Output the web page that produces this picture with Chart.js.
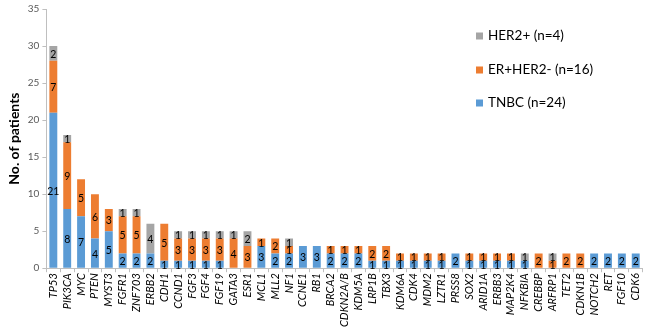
<!DOCTYPE html>
<html><head><meta charset="utf-8">
<script src="https://cdn.jsdelivr.net/npm/chart.js@4.4.0/dist/chart.umd.min.js"></script>
<style>html,body{margin:0;padding:0;background:#fff;}#wrap{position:relative;width:650px;height:330px;}</style>
</head><body><div id="wrap"><canvas id="c" width="650" height="330"></canvas></div>
<script>
const genes = ['TP53','PIK3CA','MYC','PTEN','MYST3','FGFR1','ZNF703','ERBB2','CDH1','CCND1','FGF3','FGF4','FGF19','GATA3','ESR1','MCL1','MLL2','NF1','CCNE1','RB1','BRCA2','CDKN2A/B','KDM5A','LRP1B','TBX3','KDM6A','CDK4','MDM2','LZTR1','PRSS8','SOX2','ARID1A','ERBB3','MAP2K4','NFKBIA','CREBBP','ARFRP1','TET2','CDKN1B','NOTCH2','RET','FGF10','CDK6'];
const tnbc  = [21,8,7,4,5,2,2,2,1,1,1,1,1,0,0,3,2,2,3,3,2,2,2,1,1,1,1,1,1,2,1,1,1,1,1,0,0,0,0,2,2,2,2];
const erPos = [7,9,5,6,3,5,5,0,5,3,3,3,3,4,3,1,2,1,0,0,1,1,1,2,2,1,1,1,1,0,1,1,1,1,0,2,1,2,2,0,0,0,0];
const her2  = [2,1,0,0,0,1,1,4,0,1,1,1,1,1,2,0,0,1,0,0,0,0,0,0,0,0,0,0,0,0,0,0,0,0,1,0,1,0,0,0,0,0,0];
const seriesLabels = ['TNBC (n=24)','ER+HER2- (n=16)','HER2+ (n=4)'];
const seriesColors = ['#5B9BD5','#ED7D31','#A5A5A5'];
const yMax = 35, yStep = 5;
const yTitle = 'No. of patients';

const segLabels = {
  id:'segLabels',
  afterDatasetsDraw(chart){
    const ctx = chart.ctx;
    ctx.save();
    ctx.font = '10.5px Lato, "Liberation Sans", sans-serif';
    ctx.fillStyle = '#000';
    ctx.textAlign = 'center';
    ctx.textBaseline = 'middle';
    chart.data.datasets.forEach((ds,di)=>{
      const meta = chart.getDatasetMeta(di);
      meta.data.forEach((el,i)=>{
        const v = ds.data[i];
        if(!v) return;
        ctx.fillText(String(v), el.x, (el.y+el.base)/2+1);
      });
    });
    ctx.restore();
  }
};
const sideLegend = {
  id:'sideLegend',
  afterDraw(chart){
    const ctx = chart.ctx;
    ctx.save();
    ctx.font = '13.5px Lato, "Liberation Sans", sans-serif';
    ctx.textBaseline = 'middle';
    ctx.textAlign = 'left';
    const ys = [36,70,103];
    const order = [2,1,0];
    order.forEach((di,k)=>{
      const ds = chart.data.datasets[di];
      ctx.fillStyle = ds.backgroundColor;
      ctx.fillRect(476, ys[k]-3.5, 7, 7);
      ctx.fillStyle = '#000';
      ctx.fillText(ds.label, 488, ys[k]);
    });
    ctx.restore();
  }
};

new Chart(document.getElementById('c'), {
  type:'bar',
  data:{
    labels: genes,
    datasets:[
      {label:seriesLabels[0], data:tnbc, backgroundColor:seriesColors[0]},
      {label:seriesLabels[1], data:erPos, backgroundColor:seriesColors[1]},
      {label:seriesLabels[2], data:her2, backgroundColor:seriesColors[2]}
    ]
  },
  options:{
    responsive:false,
    animation:false,
    devicePixelRatio:1,
    layout:{padding:{top:3,right:6,left:2,bottom:2}},
    datasets:{bar:{categoryPercentage:1, barPercentage:0.57}},
    plugins:{legend:{display:false}, tooltip:{enabled:false}},
    scales:{
      x:{
        stacked:true,
        grid:{display:true, drawOnChartArea:false, tickLength:4, color:'#BFBFBF'},
        border:{color:'#BFBFBF'},
        ticks:{minRotation:90, maxRotation:90, autoSkip:false, padding:1, color:'#000',
          font:{family:'Lato, "Liberation Sans", sans-serif', size:11, style:'italic'}}
      },
      y:{
        stacked:true, min:0, max:yMax,
        title:{display:true, text:yTitle, color:'#000', font:{family:'Lato, "Liberation Sans", sans-serif', size:14, weight:'bold'}, padding:{bottom:2}},
        grid:{display:true, drawOnChartArea:false, tickLength:4, color:'#BFBFBF'},
        border:{color:'#BFBFBF'},
        ticks:{stepSize:yStep, color:'#595959', padding:3, font:{family:'Lato, "Liberation Sans", sans-serif', size:10}}
      }
    }
  },
  plugins:[segLabels, sideLegend]
});
</script></body></html>
